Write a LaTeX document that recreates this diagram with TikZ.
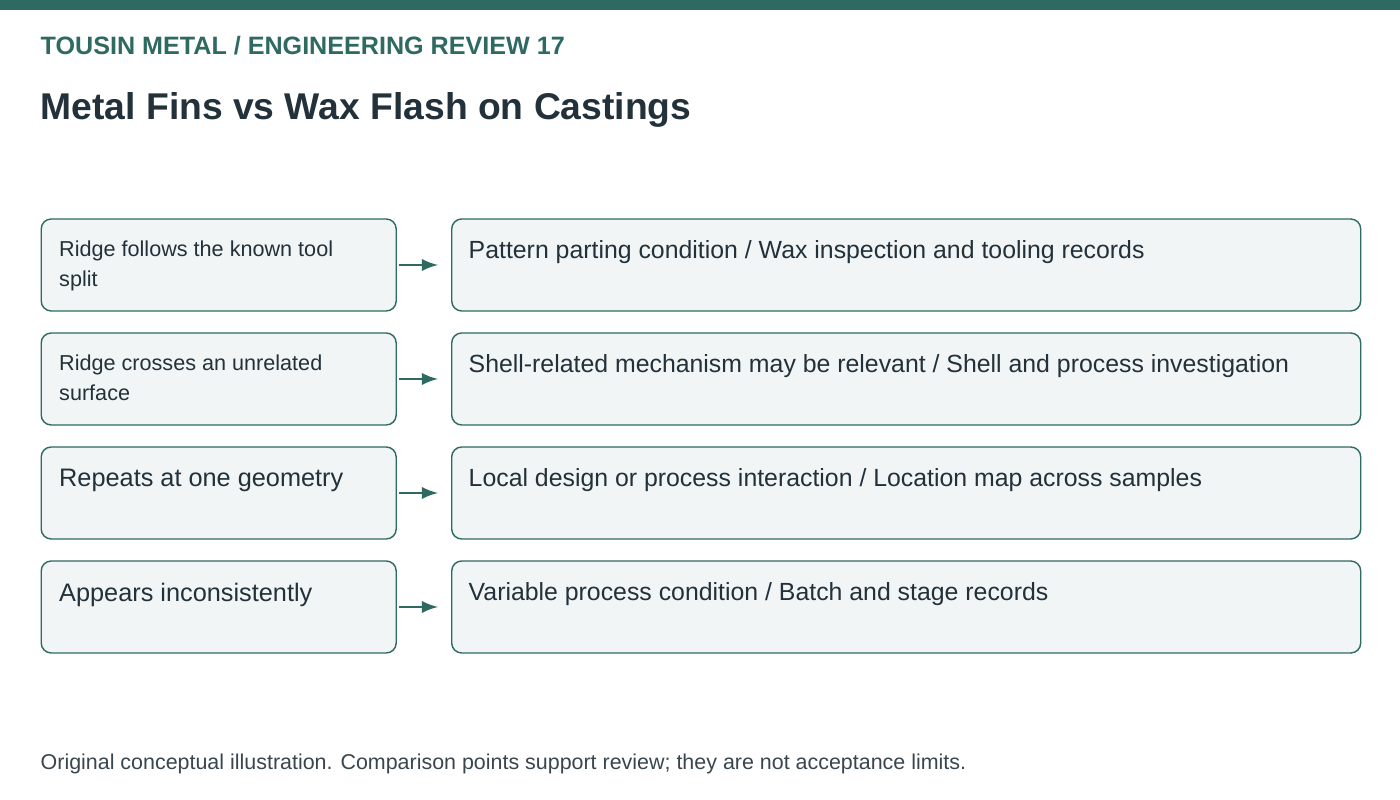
\documentclass[tikz,border=0pt]{standalone}
\usepackage{fontspec}
\setmainfont{Liberation Sans}
\usetikzlibrary{positioning}
\definecolor{teal}{HTML}{2F6A62}
\definecolor{ink}{HTML}{23313A}
\definecolor{boxfill}{HTML}{F1F5F5}
\tikzset{
  box/.style={draw=teal,fill=boxfill,line width=0.4pt,rounded corners=0.1cm,minimum height=0.92cm,inner sep=0pt},
  cond/.style={box,minimum width=3.55cm},
  act/.style={box,minimum width=9.09cm},
  txt/.style={anchor=north west,inner sep=0pt,text=ink,align=left},
  link/.style={draw=teal,line width=0.6pt,-latex}
}
\begin{document}
\begin{tikzpicture}[x=1cm,y=1cm]
\useasboundingbox (0,0) rectangle (14,8);
\fill[white] (0,0) rectangle (14,8);
\fill[teal] (0,7.9) rectangle (14,8);
% heading
\node[txt,text=teal,font=\bfseries\fontsize{7.15}{8}\selectfont] (kicker) at (0.4,7.64) {TOUSIN METAL / ENGINEERING REVIEW 17};
\node[txt,font=\bfseries\fontsize{10.6}{12}\selectfont] (title) at (0.4,7.08) {Metal Fins vs Wax Flash on Castings};
% rows
\foreach \i/\ctext/\csize/\atext in {
  1/{Ridge follows the known tool\\split}/6.15/{Pattern parting condition / Wax inspection and tooling records},
  2/{Ridge crosses an unrelated\\surface}/6.15/{Shell-related mechanism may be relevant / Shell and process investigation},
  3/{Repeats at one geometry}/7.2/{Local design or process interaction / Location map across samples},
  4/{Appears inconsistently}/7.2/{Variable process condition / Batch and stage records}}{
  \pgfmathsetmacro\yc{8-2.65-(\i-1)*1.14}
  \node[cond,anchor=west] (c\i) at (0.405,\yc) {};
  \node[act,anchor=west] (a\i) at (4.51,\yc) {};
  \node[txt,font=\fontsize{\csize}{8.4}\selectfont] (ct\i) at ([xshift=0.18cm,yshift=-0.22cm]c\i.north west) {\ctext};
  \node[txt,font=\fontsize{7.07}{8.4}\selectfont] (at\i) at ([xshift=0.17cm,yshift=-0.22cm]a\i.north west) {\atext};
  \draw[link] ([xshift=0.02cm]c\i.east) -- ([xshift=-0.13cm]a\i.west);
}
% footer
\node[txt,font=\fontsize{6.1}{7}\selectfont,text=ink!90] (note) at (0.4,0.47) {Original conceptual illustration. Comparison points support review; they are not acceptance limits.};
\end{tikzpicture}
\end{document}
